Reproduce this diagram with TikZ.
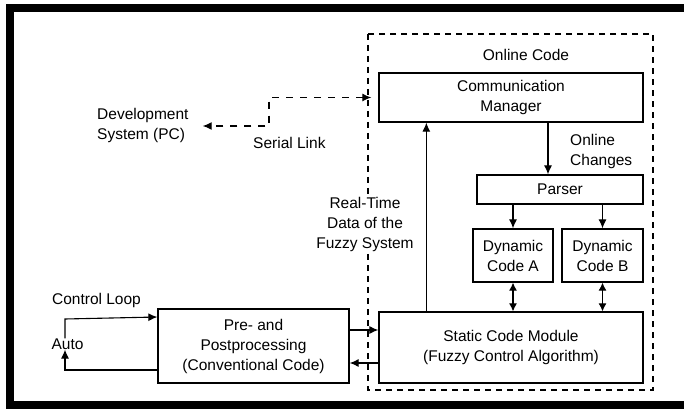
\documentclass[tikz,border=0pt]{standalone}
\usepackage{fontspec}
\setmainfont{Liberation Sans}
\usetikzlibrary{arrows.meta}
\tikzset{
  txt/.style={font=\fontsize{15.5pt}{20pt}\selectfont, inner sep=0pt},
  blk/.style={txt, draw, line width=1.3pt, align=center},
  arr/.style={line width=1.1pt, -{Latex[length=9pt,width=8pt]}},
  darr/.style={line width=1.1pt, {Latex[length=8pt,width=8pt]}-{Latex[length=8pt,width=8pt]}},
  serial/.style={line width=1.2pt, dash pattern=on 7pt off 7pt, {Latex[length=9pt,width=8pt]}-{Latex[length=9pt,width=8pt]}},
  onbox/.style={line width=1.2pt, dash pattern=on 6pt off 5pt},
  frame/.style={line width=8pt}
}
\begin{document}
\begin{tikzpicture}[x=1pt,y=-1pt]
\useasboundingbox (0,0) rectangle (684,411);
% frame (right side cut off)
\draw[frame] (700,8) -- (10,8) -- (10,405) -- (700,405);
% online code dashed box
\draw[onbox] (368,34) rectangle (653,390);
\node[txt] (online) at (526,55) {Online Code};
% blocks
\node[blk, minimum width=264pt, minimum height=49pt] (cm) at (511,97.5) {Communication\\Manager};
\node[blk, minimum width=166pt, minimum height=29pt] (parser) at (560,189.5) {Parser};
\node[blk, minimum width=80pt, minimum height=53pt] (dyna) at (513,255.5) {Dynamic\\Code A};
\node[blk, minimum width=81pt, minimum height=53pt] (dynb) at (602.5,255.5) {Dynamic\\Code B};
\node[blk, minimum width=264pt, minimum height=71pt] (static) at (511,347.5) {Static Code Module\\(Fuzzy Control Algorithm)};
\node[blk, minimum width=191pt, minimum height=74pt] (pre) at (253.5,346) {Pre- and\\Postprocessing\\(Conventional Code)};
% labels
\node[txt, align=left, anchor=west] (chg) at (570,151) {Online\\Changes};
\node[txt, align=center, fill=white, inner sep=2pt] (rt) at (365,224) {Real-Time\\Data of the\\Fuzzy System};
\node[txt, align=left, anchor=west] (dev) at (97,125) {Development\\System (PC)};
\node[txt, anchor=west] (sltxt) at (253,143) {Serial Link};
\node[txt] (loop) at (96.5,300) {Control Loop};
\node[txt] (auto) at (67.5,344) {Auto};
% connectors
\draw[arr] ([xshift=-12pt]parser.north |- cm.south) -- ([xshift=-12pt]parser.north);
\draw[arr] ([xshift=48pt]static.north west) -- ([xshift=48pt]cm.south west);
\draw[arr] (dyna.north |- parser.south) -- (dyna.north);
\draw[arr] (dynb.north |- parser.south) -- (dynb.north);
\draw[darr] (dyna.south) -- (dyna.south |- static.north);
\draw[darr] (dynb.south) -- (dynb.south |- static.north);
\draw[arr] ([yshift=16pt]pre.east) -- ([yshift=16pt]pre.east -| static.west);
\draw[arr] ([yshift=-17pt]pre.east -| static.west) -- ([yshift=-17pt]pre.east);
\draw[arr] ([xshift=-2.5pt]auto.north) -- ([xshift=-2.5pt,yshift=27pt]auto.north |- pre.west) -- ([yshift=29pt]pre.west);
\draw[arr] ([yshift=-24pt]pre.west) -- ([xshift=-2.5pt,yshift=-24pt]auto.south |- pre.west) -- ([xshift=-2.5pt]auto.south);
\coordinate (sl) at (269,126);
\draw[serial, shorten <=7pt, shorten >=14pt] (cm.west) -| (sl) -- (dev.east |- sl);
\end{tikzpicture}
\end{document}
